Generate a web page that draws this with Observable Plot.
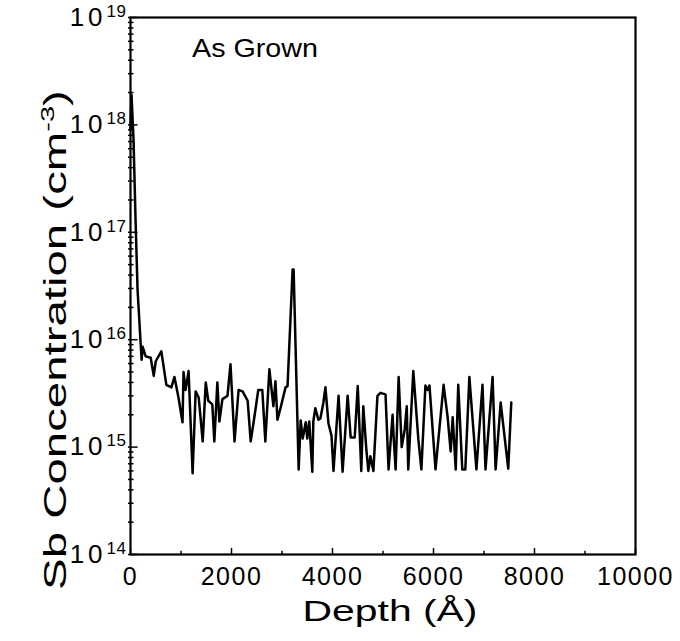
<!DOCTYPE html>
<html><head><meta charset="utf-8">
<script src="https://cdn.jsdelivr.net/npm/d3@7"></script>
<script src="https://cdn.jsdelivr.net/npm/@observablehq/plot@0.6"></script>
<style>
body{margin:0;background:#fff}
svg{font-family:"Liberation Sans",Arial,Helvetica,sans-serif}
</style>
</head><body><div id="chart"></div>
<script>
// Depth (Å) and Sb concentration (cm^-3)
const depth = [
  0,20,60,100,140, 200,220,240,300,400, 460,500,610,710,810, 870,950,1030,1050,1090,
  1150,1230,1290,1350,1430, 1490,1540,1620,1660,1720, 1760,1820,1920,1980,2060, 2140,2220,2320,2380,2440,
  2530,2610,2670,2750,2830, 2870,2910,2970,3070,3110, 3210,3230,3330,3370,3410, 3470,3500,3540,3600,3620,
  3660,3720,3760,3820,3860, 3920,3980,4020,4120,4200, 4300,4360,4440,4500,4570, 4610,4670,4710,4750,4810,
  4890,4950,5050,5110,5190, 5210,5250,5310,5370,5430, 5470,5500,5600,5700,5760, 5840,5880,5920,6040,6200,
  6280,6340,6380,6440,6490, 6570,6630,6710,6850,6970, 7030,7170,7230,7330,7480, 7540
];
const sbConc = [
  9.1e17,1.9e18,7.3e17,1.3e17,2.9e16, 9.4e15,6.5e15,8.6e15,7.0e15,6.8e15,
  4.6e15,6.3e15,7.8e15,3.8e15,3.6e15, 4.5e15,2.9e15,1.7e15,5.0e15,3.4e15,
  5.1e15,5.7e14,3.3e15,2.9e15,1.13e15, 4.0e15,2.7e15,2.5e15,1.13e15,4.0e15,
  1.73e15,2.8e15,3.0e15,5.9e15,1.13e15, 3.4e15,3.3e15,2.7e15,1.13e15,1.73e15,
  3.4e15,3.4e15,1.13e15,5.3e15,2.4e15, 4.1e15,1.8e15,2.3e15,3.6e15,3.7e15,
  4.5e16,4.5e16,6.2e14,1.77e15,1.2e15, 1.7e15,1.2e15,1.73e15,5.9e14,1.73e15,
  2.3e15,1.8e15,1.85e15,2.6e15,3.6e15, 1.66e15,1.28e15,6.0e14,3.0e15,5.9e14,
  3.0e15,1.23e15,1.23e15,3.7e15,6.0e14, 2.4e15,9.5e14,6.0e14,8.2e14,6.0e14,
  3.0e15,3.2e15,3.1e15,6.2e14,2.0e15, 1.26e15,6.2e14,4.5e15,1.0e15,1.46e15,
  2.4e15,6.2e14,5.1e15,1.18e15,6.2e14, 3.75e15,3.4e15,3.75e15,6.2e14,3.8e15,
  1.9e15,9.1e14,1.9e15,6.2e14,3.8e15, 6.2e14,6.2e14,4.5e15,6.2e14,3.8e15,
  6.2e14,4.5e15,6.2e14,2.6e15,6.3e14, 2.6e15
];
const xTicks = [0,2000,4000,6000,8000,10000];
const xMinorTicks = [1000,3000,5000,7000,9000];
const yExponents = [14,15,16,17,18,19];
const yMinorMantissas = [2,3,4,5,6,7,8,9];
const yMinorDecades = [14,15,16,17,18];
const sampleLabel = "As Grown";
const xLabel = "Depth (Å)";
const yLabelMain = "Sb Concentration (cm";
const yLabelSup = "-3";
const yLabelEnd = ")";

const profile = depth.map((d, i) => ({depth: d, conc: sbConc[i]}));
const yTicks = yExponents.map(e => 10 ** e);
const yMinor = yMinorDecades.flatMap(e => yMinorMantissas.map(m => m * 10 ** e));

const plot = Plot.plot({
  width: 680, height: 641,
  marginLeft: 130, marginRight: 45, marginTop: 17, marginBottom: 87,
  style: {background: "#fff", color: "#000", fontFamily: '"Liberation Sans", Arial, sans-serif'},
  x: {domain: [0, 10000]},
  y: {type: "log", domain: [1e14, 1e19]},
  marks: [
    Plot.ruleY(yMinor, {y: d => d, x1: -40, x2: 70, stroke: "#000", strokeWidth: 1.5}),
    Plot.ruleY(yTicks, {y: d => d, x1: -40, x2: 150, stroke: "#000", strokeWidth: 1.5}),
    Plot.ruleX(xMinorTicks, {x: d => d, y1: 1e14, y2: 1.07e14, stroke: "#000", strokeWidth: 1.5}),
    Plot.ruleX(xTicks, {x: d => d, y1: 1e14, y2: 1.14e14, stroke: "#000", strokeWidth: 1.5}),
    Plot.axisX(xTicks, {tickSize: 0, tickPadding: 13, fontSize: 25, label: null, tickFormat: d => String(d)}),
    Plot.axisY(yTicks, {tickSize: 0, tickPadding: 4, fontSize: 26, label: null,
      tickFormat: d => "10|" + Math.round(Math.log10(d))}),
    Plot.line(profile, {x: "depth", y: "conc", stroke: "#000", strokeWidth: 2.5, strokeLinejoin: "round"}),
    Plot.frame({stroke: "#000", strokeWidth: 2.2})
  ]
});
document.getElementById("chart").append(plot);
const svg = d3.select(plot);

svg.selectAll('g[aria-label="x-axis tick label"] text').attr("letter-spacing", 1.5).attr("fill", "#000");
svg.selectAll('g[aria-label="y-axis tick label"] text').each(function() {
  const [base, exp] = this.textContent.split("|");
  const t = d3.select(this);
  t.text(null).attr("fill", "#000");
  t.append("tspan").attr("letter-spacing", 4).text(base);
  t.append("tspan").attr("font-size", 17).attr("letter-spacing", 0.5).attr("dy", -9).text(exp);
});

function stretch(sel, target, tx, ty, rot) {
  const len = sel.node().getComputedTextLength();
  const s = target / len;
  sel.attr("transform", `translate(${tx},${ty})${rot ? ` rotate(${rot})` : ""} scale(${s},1)`);
}

const yl = svg.append("text").attr("font-size", 31).attr("text-anchor", "middle").attr("fill", "#000");
yl.append("tspan").text(yLabelMain);
yl.append("tspan").attr("font-size", 19).attr("dy", -12).text(yLabelSup);
yl.append("tspan").attr("dy", 12).text(yLabelEnd);
stretch(yl, 500, 66, 340, -90);

const xl = svg.append("text").attr("font-size", 29).attr("text-anchor", "middle").attr("fill", "#000").text(xLabel);
stretch(xl, 175, 390, 621, 0);

const al = svg.append("text").attr("font-size", 25).attr("text-anchor", "start").attr("fill", "#000").text(sampleLabel);
stretch(al, 126, 192, 57, 0);
</script>
</body></html>
